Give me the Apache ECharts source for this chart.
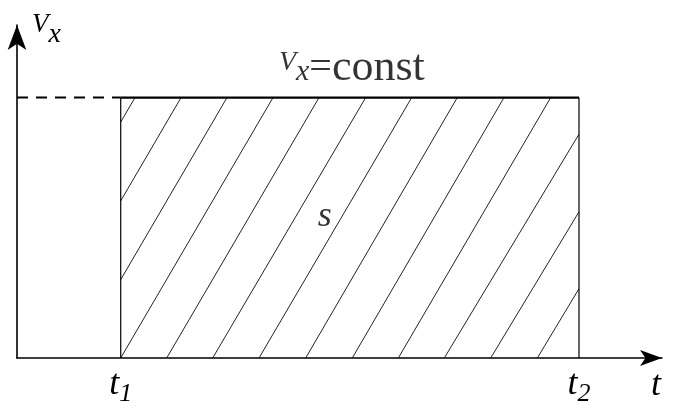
<!DOCTYPE html>
<html>
<head>
<meta charset="utf-8">
<script src="https://cdn.jsdelivr.net/npm/echarts@6/dist/echarts.min.js"></script>
<style>
  html, body { margin: 0; padding: 0; background: #fff; }
  #chart { width: 674px; height: 405px; }
</style>
</head>
<body>
<div id="chart"></div>
<script>
// Interval on the time axis and the constant velocity over it
const tStart = 16.08;
const tEnd = 87.13;
const vxConst = 78.2;

// Hatch strokes: where each stroke meets the time axis and the V = const level
const hatchBase = [-5.27, 1.86, 8.99, 16.08, 23.21, 30.34, 37.52, 44.76, 51.98, 59.12, 66.25, 73.44, 80.67];
const hatchTop  = [18.29, 25.43, 32.56, 39.69, 46.82, 54.06, 61.19, 68.26, 75.5, 82.74, 90.54, 97.83, 104.96];

// Tick labels on the time axis (subscripts of t)
const tickValues = [tStart, tEnd];
const tickSubscripts = ['1', '2'];

// Clip every stroke to the rectangle t1..t2, 0..V
const hatchSegments = hatchBase.map((b, i) => {
  const run = (hatchTop[i] - b) / vxConst;
  const y0 = Math.max(0, (tStart - b) / run);
  const y1 = Math.min(vxConst, (tEnd - b) / run);
  return [b + run * y0, y0, b + run * y1, y1];
}).filter(s => s[3] > s[1]);

const FAMILY = 'Liberation Serif';
const ink = '#000';

const italic = (size, extra) => Object.assign({ fontFamily: FAMILY, fontStyle: 'italic', fontSize: size, color: ink }, extra || {});
const roman = (size, extra) => Object.assign({ fontFamily: FAMILY, fontStyle: 'normal', fontSize: size, color: ink }, extra || {});

const chart = echarts.init(document.getElementById('chart'));
chart.setOption({
  animation: false,
  grid: { left: 17, right: 12, top: 25, bottom: 47, outerBoundsMode: 'none' },
  xAxis: {
    type: 'value', min: 0, max: 100,
    name: '{t|t}',
    nameLocation: 'end', nameGap: -6,
    nameTextStyle: { verticalAlign: 'top', align: 'center', padding: [10, 0, 0, 0], rich: { t: italic(36) } },
    axisLine: { lineStyle: { color: ink, width: 1.6 }, symbol: ['none', 'arrow'], symbolSize: [12, 22] },
    axisTick: { show: false },
    splitLine: { show: false },
    axisLabel: {
      customValues: tickValues, margin: 5,
      formatter: (v) => '{t|t}{n|' + tickSubscripts[tickValues.indexOf(v)] + '}',
      rich: { t: italic(36), n: italic(26, { padding: [18, 0, 0, 0] }) }
    }
  },
  yAxis: {
    type: 'value', min: 0, max: 100,
    name: '{v|V}{s|x}', nameLocation: 'end', nameGap: 0,
    nameTextStyle: { align: 'left', verticalAlign: 'middle', padding: [0, 0, 0, 15],
      rich: { v: italic(27), s: italic(28, { padding: [20, 0, 0, 0] }) } },
    axisLine: { show: true, lineStyle: { color: ink, width: 1.6 }, symbol: ['none', 'arrow'], symbolSize: [14, 25] },
    axisTick: { show: false }, splitLine: { show: false }, axisLabel: { show: false }
  },
  series: [
    {
      name: 'hatch', type: 'custom', silent: true,
      data: hatchSegments,
      renderItem: (params, api) => {
        const p0 = api.coord([api.value(0), api.value(1)]);
        const p1 = api.coord([api.value(2), api.value(3)]);
        return {
          type: 'line',
          shape: { x1: p0[0], y1: p0[1], x2: p1[0], y2: p1[1] },
          style: { stroke: '#222', lineWidth: 1 }
        };
      }
    },
    {
      name: 'level', type: 'line', symbol: 'none', silent: true,
      data: [[0, vxConst], [tStart, vxConst]],
      lineStyle: { color: ink, width: 2, type: [11, 8] }
    },
    {
      name: 'left side', type: 'line', symbol: 'none', silent: true,
      data: [[tStart, 0], [tStart, vxConst]],
      lineStyle: { color: ink, width: 1.2 }
    },
    {
      name: 'right side', type: 'line', symbol: 'none', silent: true,
      data: [[tEnd, 0], [tEnd, vxConst]],
      lineStyle: { color: ink, width: 1.2 }
    },
    {
      name: 'top', type: 'line', symbol: 'none', silent: true,
      data: [[tStart, vxConst], [tEnd, vxConst]],
      lineStyle: { color: ink, width: 2.2 }
    },
    {
      name: 'labels', type: 'scatter', symbolSize: 0,
      data: [
        { value: [(tStart + tEnd) / 2, vxConst], label: {
          show: true, position: 'top', distance: 7, offset: [2, 0],
          formatter: '{v|V}{s|x}{eq|=}{c|const}',
          rich: {
            v: italic(28, { padding: [0, 0, 12, 0] }),
            s: italic(30, { padding: [8, 0, 0, 0] }),
            eq: roman(40),
            c: roman(44)
          }
        } },
        { value: [(tStart + tEnd) / 2, vxConst / 2], label: Object.assign({ show: true, position: 'inside', offset: [-25, -11], formatter: 's' }, italic(36)) }
      ]
    }
  ]
});
</script>
</body>
</html>
